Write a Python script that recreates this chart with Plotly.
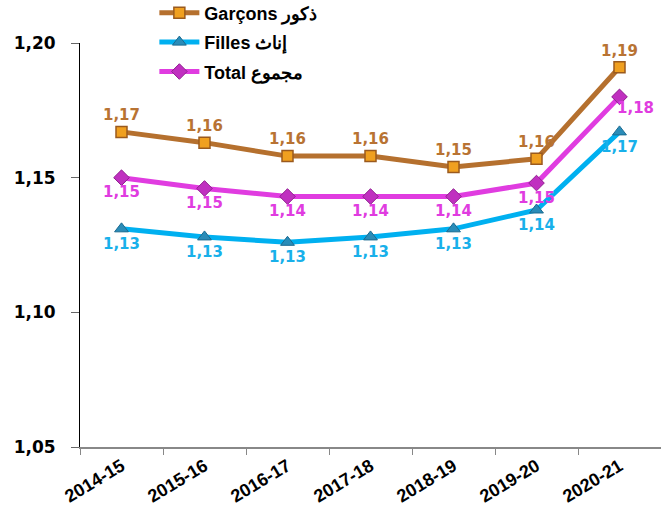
import plotly.graph_objects as go

years = ["2014-15", "2015-16", "2016-17", "2017-18", "2018-19", "2019-20", "2020-21"]
garcons = [1.167, 1.163, 1.158, 1.158, 1.154, 1.157, 1.191]
filles = [1.131, 1.128, 1.126, 1.128, 1.131, 1.138, 1.167]
total = [1.150, 1.146, 1.143, 1.143, 1.143, 1.148, 1.180]

names = ["Garçons ذكور", "Filles إناث", "Total مجموع"]

label_font = "DejaVu Sans"

fig = go.Figure()
fig.add_trace(go.Scatter(
    x=years, y=garcons, name=names[0], legendgroup="g", mode="lines+markers+text",
    line=dict(color="#B5702E", width=5),
    marker=dict(symbol="square", size=11, color="#F0A020", line=dict(color="#9A5A1E", width=1.5)),
    texttemplate="%{y:.2f}", textposition="top center",
    textfont=dict(family=label_font, size=15, color="#B87333", weight="bold"),
    cliponaxis=False,
))
fig.add_trace(go.Scatter(
    x=years, y=filles, name=names[1], legendgroup="f", mode="lines+markers+text",
    line=dict(color="#00B0F0", width=5),
    marker=dict(symbol="triangle-up", size=12, color="#2A8CB8", line=dict(color="#1A6A90", width=1)),
    texttemplate="%{y:.2f}", textposition="bottom center",
    textfont=dict(family=label_font, size=15, color="#18B0EA", weight="bold"),
    cliponaxis=False,
))
fig.add_trace(go.Scatter(
    x=years, y=total, name=names[2], legendgroup="t", mode="lines+markers+text",
    line=dict(color="#E03CE0", width=5),
    marker=dict(symbol="diamond", size=12, color="#C030C0", line=dict(color="#902090", width=1)),
    texttemplate=["%{y:.2f}"] * (len(total) - 1) + [""],
    textposition="bottom center",
    textfont=dict(family=label_font, size=15, color="#E03CE0", weight="bold"),
    cliponaxis=False,
))
# last Total label sits to the lower right of its marker
fig.add_annotation(
    x=years[-1], y=total[-1], text=f"{total[-1]:.2f}".replace(".", ","),
    showarrow=False, xanchor="left", yanchor="middle", xshift=-5, yshift=-11,
    font=dict(family=label_font, size=15, color="#E03CE0", weight="bold"),
)

fig.update_layout(
    width=661, height=510,
    margin=dict(l=80, r=0, t=43, b=63, autoexpand=False),
    plot_bgcolor="white", paper_bgcolor="white",
    separators=", ",
    showlegend=True,
    legend=dict(
        x=0.128, y=1.12, xanchor="left", yanchor="top",
        bgcolor="rgba(0,0,0,0)",
        font=dict(family="Arial, Liberation Sans", size=18, color="black", weight="bold"),
        traceorder="grouped", tracegroupgap=3, itemwidth=40,
    ),
    xaxis=dict(
        range=[-0.5, 6.5],
        showline=True, linecolor="#888", linewidth=1.5,
        ticks="outside", ticklen=6, tickcolor="#888", tickson="boundaries",
        tickangle=-31, showgrid=False,
        tickfont=dict(family="Arial, Liberation Sans", size=18, color="black", weight="bold"),
    ),
    yaxis=dict(
        range=[1.05, 1.20], tickvals=[1.05, 1.10, 1.15, 1.20], tickformat=".2f",
        showline=True, linecolor="black", linewidth=1,
        ticks="outside", ticklen=8, tickcolor="#666", ticklabelstandoff=12,
        showgrid=False, zeroline=False,
        tickfont=dict(family="DejaVu Sans", size=17, color="black", weight="bold"),
    ),
)

fig.write_html("out.html", config={"displayModeBar": False},
               post_script="document.body.style.margin='0px';")
